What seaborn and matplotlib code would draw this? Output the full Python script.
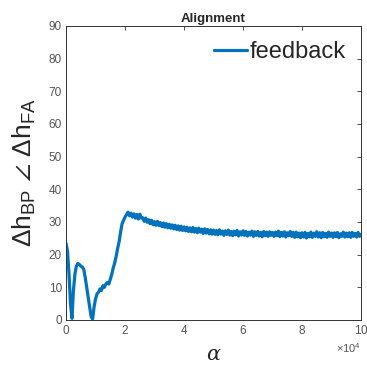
import numpy as np
import pandas as pd
import matplotlib
matplotlib.use("Agg")
import matplotlib.pyplot as plt
import seaborn as sns

# ---- data ----
iterations = list(range(0, 100001, 500))
alignment = [
    23.5, 21.0, 14.0, 5.0, 0.5, 9.0, 14.0, 16.5, 17.3, 17.0,
    16.5, 16.2, 15.5, 13.0, 10.0, 7.0, 4.0, 1.0, 0.3, 4.0,
    6.5, 8.0, 8.5, 9.5, 9.0, 10.5, 10.0, 11.0, 11.5, 11.0,
    12.5, 14.0, 16.0, 17.5, 19.5, 22.0, 24.0, 27.0, 29.5, 30.5,
    31.5, 32.3, 33.0, 31.9, 32.7, 31.5, 32.5, 31.2, 32.3, 30.9,
    32.4, 31.2, 31.3, 30.2, 31.2, 29.9, 30.7, 29.5, 30.5, 29.2,
    30.1, 29.0, 30.2, 28.9, 29.8, 28.6, 29.7, 28.4, 29.5, 28.2,
    29.3, 28.1, 29.1, 27.9, 29.0, 27.7, 28.8, 27.5, 28.7, 27.4,
    28.5, 27.3, 28.4, 27.1, 28.2, 27.0, 28.3, 26.9, 28.0, 26.7,
    28.1, 26.9, 27.8, 26.5, 27.9, 26.6, 27.7, 26.4, 27.6, 26.3,
    27.5, 26.2, 27.4, 26.1, 27.6, 26.3, 27.2, 25.9, 27.3, 26.2,
    27.5, 26.0, 27.1, 25.8, 27.2, 26.1, 27.4, 25.7, 27.0, 26.0,
    27.3, 25.9, 27.1, 25.7, 26.9, 26.0, 27.2, 25.6, 27.0, 25.9,
    27.1, 25.7, 26.8, 25.5, 27.1, 25.8, 26.9, 25.6, 27.0, 25.9,
    26.8, 25.6, 26.9, 25.8, 27.2, 25.5, 26.8, 25.7, 27.0, 25.4,
    26.7, 25.8, 27.1, 25.6, 26.8, 25.3, 26.9, 25.5, 26.6, 25.2,
    26.7, 25.4, 26.8, 25.1, 26.5, 25.5, 26.9, 25.3, 26.6, 25.6,
    27.0, 25.4, 26.7, 25.2, 26.8, 25.5, 26.5, 25.3, 26.9, 25.6,
    26.6, 25.3, 26.7, 25.5, 26.8, 25.2, 26.4, 25.6, 26.9, 25.4,
    26.6, 25.5, 26.7, 25.3, 26.8, 25.6, 26.5, 25.4, 26.8, 25.6,
    26.2,
]
series_name = "feedback"
title = "Alignment"
x_ticks = [0, 20000, 40000, 60000, 80000, 100000]
y_ticks = [0, 10, 20, 30, 40, 50, 60, 70, 80, 90]

df = pd.DataFrame({"iter": iterations, "align": alignment})

sns.set_style("white")
plt.rcParams["font.family"] = ["Liberation Sans", "DejaVu Sans"]
plt.rcParams["mathtext.fontset"] = "custom"
plt.rcParams["mathtext.rm"] = "Liberation Sans"
plt.rcParams["mathtext.it"] = "Liberation Sans:italic"

fig = plt.figure(figsize=(3.67, 3.75), dpi=100)
ax = fig.add_axes([0.18, 0.1467, 0.8037, 0.784])

sns.lineplot(data=df, x="iter", y="align", ax=ax, color="#0072BD",
             linewidth=2.3, label=series_name)

ax.set_xlim(0, 100000)
ax.set_ylim(0, 90)
ax.set_xticks(x_ticks)
ax.set_yticks(y_ticks)
ax.ticklabel_format(style="sci", axis="x", scilimits=(4, 4), useMathText=True)
ax.xaxis.get_offset_text().set_fontsize(8)
ax.xaxis.get_offset_text().set_color("#555555")

ax.tick_params(direction="in", length=3, width=0.6, top=True, right=True,
               labelsize=8.5, labelcolor="#555555", color="#333333", pad=3)
for s in ax.spines.values():
    s.set_color("#333333")
    s.set_linewidth(0.7)

ax.set_title(title, fontsize=9.5, fontweight="bold", pad=3)
ax.set_xlabel("α", fontsize=15, family="DejaVu Serif", style="italic",
              labelpad=6)
ax.set_ylabel(r"$\Delta \mathrm{h}_{\mathrm{BP}}\ \angle\ \Delta \mathrm{h}_{\mathrm{FA}}$",
              fontsize=19, labelpad=8)

leg = ax.legend(loc="upper right", frameon=False, fontsize=17,
                handlelength=1.4, handletextpad=0.1, borderaxespad=0.25)

fig.savefig("out.png", dpi=100)
